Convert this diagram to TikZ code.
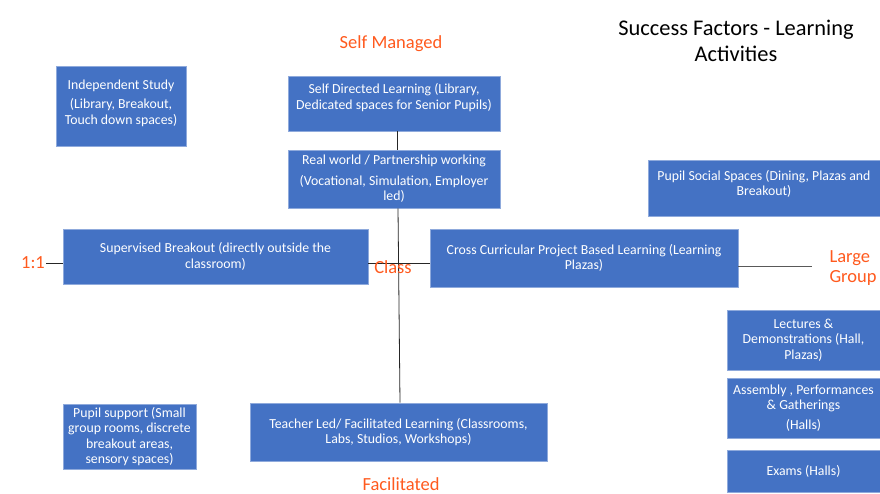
\documentclass[tikz,border=0pt]{standalone}
\usepackage{fontspec}
\setmainfont{Carlito}
\definecolor{boxblue}{HTML}{4472C4}
\definecolor{boxedge}{HTML}{8FAADC}
\definecolor{lblorange}{HTML}{FF5A1E}
\begin{document}
\begin{tikzpicture}[x=1pt,y=-1pt,
 box/.style={fill=boxblue, draw=boxedge, line width=0.6pt, text=white, align=center,
   font=\fontsize{13.8}{15.5}\selectfont, inner sep=2pt},
 lbl/.style={text=lblorange, font=\fontsize{18.5}{20}\selectfont, inner sep=1pt, align=center},
 conn/.style={draw=black!85, line width=0.8pt}]
\useasboundingbox[fill=white] (0,0) rectangle (880,494);

\node[font=\fontsize{22.4}{26}\selectfont, align=center] (title) at (736,41) {Success Factors - Learning\\Activities};

\node[box, minimum width=130pt, minimum height=80pt] (indep) at (121,106)
  {Independent Study\\[4pt](Library, Breakout,\\Touch down spaces)\\[-12pt]\strut};
\node[box, minimum width=212pt, minimum height=55pt] (sdl) at (394,103.5)
  {Self Directed Learning (Library,\\Dedicated spaces for Senior Pupils)\\[-6pt]\strut};
\node[box, minimum width=212pt, minimum height=58pt] (rw) at (394,179)
  {Real world / Partnership working\\[5pt](Vocational, Simulation, Employer\\led)};
\node[box, minimum width=232pt, minimum height=56pt] (social) at (764,188)
  {Pupil Social Spaces (Dining, Plazas and\\Breakout)\\[-10pt]\strut};
\node[box, minimum width=305pt, minimum height=55pt] (sup) at (215.5,256.5)
  {Supervised Breakout (directly outside the\\classroom)};
\node[box, minimum width=308pt, minimum height=58pt] (cross) at (584,258)
  {Cross Curricular Project Based Learning (Learning\\Plazas)};
\node[box, minimum width=153pt, minimum height=60pt] (lect) at (803.5,340)
  {Lectures \&\\Demonstrations (Hall,\\Plazas)};
\node[box, minimum width=153pt, minimum height=60pt] (assem) at (803.5,408)
  {Assembly , Performances\\\& Gatherings\\[4pt](Halls)};
\node[box, minimum width=153pt, minimum height=42pt] (exams) at (803.5,471)
  {Exams (Halls)};
\node[box, minimum width=133pt, minimum height=65pt] (psup) at (129.5,436.5)
  {Pupil support (Small\\group rooms, discrete\\breakout areas,\\sensory spaces)};
\node[box, minimum width=297pt, minimum height=58pt] (teach) at (398.5,432)
  {Teacher Led/ Facilitated Learning (Classrooms,\\Labs, Studios, Workshops)};

\node[lbl] (selfm) at (391,44) {Self Managed};
\node[lbl] (facil) at (401,484) {Facilitated};
\node[lbl] (one) at (33,263) {1:1};
\node[lbl, align=left] (large) at (853,268) {Large\\Group};
\coordinate (lgend) at (812,266);

\draw[conn] ([xshift=3pt]sdl.south) -- ([xshift=3pt]rw.north);
\draw[conn] ([xshift=4pt]rw.south) -- ([xshift=1.5pt]teach.north);
\draw[conn] ([yshift=-6.5pt]sup.east) -- ([yshift=-5pt]cross.west);
\draw[conn] (one.east) -- (sup.west |- one.east);
\draw[conn, draw=black!65] ([yshift=-8pt]cross.east) -- (lgend);

\node[lbl] (cls) at (393,267) {Class};
\end{tikzpicture}
\end{document}
